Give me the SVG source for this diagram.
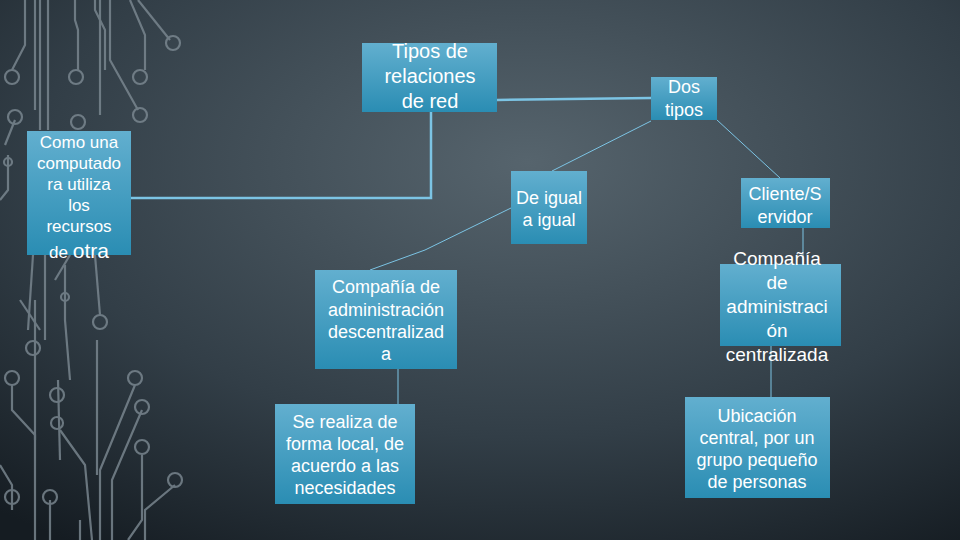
<svg xmlns="http://www.w3.org/2000/svg" width="960" height="540" viewBox="0 0 960 540">
<defs>
<radialGradient id="bg" cx="0.55" cy="0.3" r="0.85">
<stop offset="0" stop-color="#56646d"/><stop offset="0.6" stop-color="#323e47"/><stop offset="1" stop-color="#151c22"/>
</radialGradient>
<linearGradient id="bx" x1="0" y1="0" x2="0" y2="1">
<stop offset="0" stop-color="#62afcf"/><stop offset="1" stop-color="#2a8db3"/>
</linearGradient>
<style>
.b{fill:url(#bx)}
.t{font-family:"Liberation Sans",Arial,sans-serif;fill:#fff;text-anchor:middle;font-size:18px}
.c{stroke:#7cc4e4;fill:none;stroke-width:1}
.tr{stroke:#7d8a93;fill:none;stroke-width:2.2;opacity:0.8}
</style>
</defs>
<rect width="960" height="540" fill="url(#bg)"/>
<g class="tr">
<path d="M25 0V45L12 70"/><circle cx="12" cy="77" r="7"/>
<path d="M35 0V110"/>
<path d="M40 0V130"/><path d="M48 0V130"/>
<path d="M75 0V20L78 30V70"/><circle cx="76" cy="77" r="7"/>
<path d="M95 0V10L105 30V70"/>
<path d="M100 0V115"/><circle cx="78" cy="122" r="7"/>
<path d="M130 0L145 35V70"/><circle cx="140" cy="77" r="7"/>
<path d="M138 0L170 40"/><circle cx="173" cy="43" r="7"/>
<path d="M110 0V60L138 110"/><circle cx="140" cy="115" r="7"/>
<path d="M15 120L5 145"/><circle cx="15" cy="117" r="7"/>
<path d="M8 155V190L0 200"/><circle cx="8" cy="162" r="4"/>
<path d="M33 255L28 330"/><path d="M20 300L40 330"/>
<path d="M70 255L55 280"/><path d="M95 255L100 315"/><circle cx="100" cy="322" r="7"/>
<path d="M45 255V340"/><circle cx="33" cy="348" r="7"/>
<path d="M65 265L65 320L70 380"/><circle cx="65" cy="297" r="4"/>
<path d="M35 300V440"/>
<path d="M97 340V475"/>
<path d="M12 385V410L35 435V540"/><circle cx="12" cy="378" r="7"/>
<path d="M58 380L60 460"/><circle cx="57" cy="395" r="7"/>
<path d="M60 430L85 465L92 540"/><circle cx="57" cy="423" r="6"/>
<path d="M135 385L100 470V540"/><circle cx="135" cy="378" r="7"/>
<path d="M142 410L112 480V540"/><circle cx="142" cy="407" r="7"/>
<path d="M142 455V520L128 540"/><circle cx="142" cy="447" r="7"/>
<path d="M175 485L145 510V540"/><circle cx="175" cy="480" r="7"/>
<path d="M0 465L12 485V510"/><circle cx="12" cy="497" r="7"/>
<path d="M50 500V540"/><circle cx="50" cy="497" r="7"/>
<path d="M80 540V520"/>
</g>
<g id="connectors" class="c">
<path d="M497 100L651 98" stroke-width="2.5"/>
<path d="M431 112V198H131" stroke-width="2.5"/>
<path d="M651 121L552 171"/>
<path d="M511 208L425 250L370 270"/>
<path d="M717 120L780 178"/>
<path d="M803 228V264"/>
<path d="M771 346V397"/>
<path d="M398 369V404"/>
</g>
<g id="n-tipos"><rect class="b" x="362" y="43" width="135" height="69"/><text class="t" style="font-size:20px"><tspan x="430" y="58">Tipos de</tspan><tspan x="430" y="83">relaciones</tspan><tspan x="430" y="108">de red</tspan></text></g>
<g id="n-dos"><rect class="b" x="651" y="77" width="66" height="43"/><text class="t"><tspan x="684" y="93">Dos</tspan><tspan x="684" y="116">tipos</tspan></text></g>
<g id="n-como"><rect class="b" x="27" y="131" width="104" height="124"/><text class="t" style="font-size:17px"><tspan x="79" y="148">Como una</tspan><tspan x="79" y="169">computado</tspan><tspan x="79" y="190">ra utiliza</tspan><tspan x="79" y="211">los</tspan><tspan x="79" y="232">recursos</tspan><tspan x="79" y="258">de <tspan style="font-size:21px">otra</tspan></tspan></text></g>
<g id="n-igual"><rect class="b" x="511" y="171" width="76" height="73"/><text class="t"><tspan x="549" y="204">De igual</tspan><tspan x="549" y="226">a igual</tspan></text></g>
<g id="n-cliente"><rect class="b" x="741" y="178" width="89" height="50"/><text class="t"><tspan x="785" y="200">Cliente/S</tspan><tspan x="785" y="223">ervidor</tspan></text></g>
<g id="n-descen"><rect class="b" x="315" y="270" width="142" height="99"/><text class="t"><tspan x="386" y="293">Compañía de</tspan><tspan x="386" y="316">administración</tspan><tspan x="386" y="338">descentralizad</tspan><tspan x="386" y="360">a</tspan></text></g>
<g id="n-central"><rect class="b" x="720" y="264" width="121" height="82"/><text class="t" style="font-size:19px"><tspan x="777" y="265">Compañía</tspan><tspan x="777" y="289">de</tspan><tspan x="777" y="313">administraci</tspan><tspan x="777" y="337">ón</tspan><tspan x="777" y="361">centralizada</tspan></text></g>
<g id="n-local"><rect class="b" x="275" y="404" width="140" height="100"/><text class="t"><tspan x="345" y="428">Se realiza de</tspan><tspan x="345" y="450">forma local, de</tspan><tspan x="345" y="472">acuerdo a las</tspan><tspan x="345" y="494">necesidades</tspan></text></g>
<g id="n-ubic"><rect class="b" x="685" y="397" width="145" height="101"/><text class="t"><tspan x="757" y="422">Ubicación</tspan><tspan x="757" y="444">central, por un</tspan><tspan x="757" y="466">grupo pequeño</tspan><tspan x="757" y="488">de personas</tspan></text></g>
</svg>
